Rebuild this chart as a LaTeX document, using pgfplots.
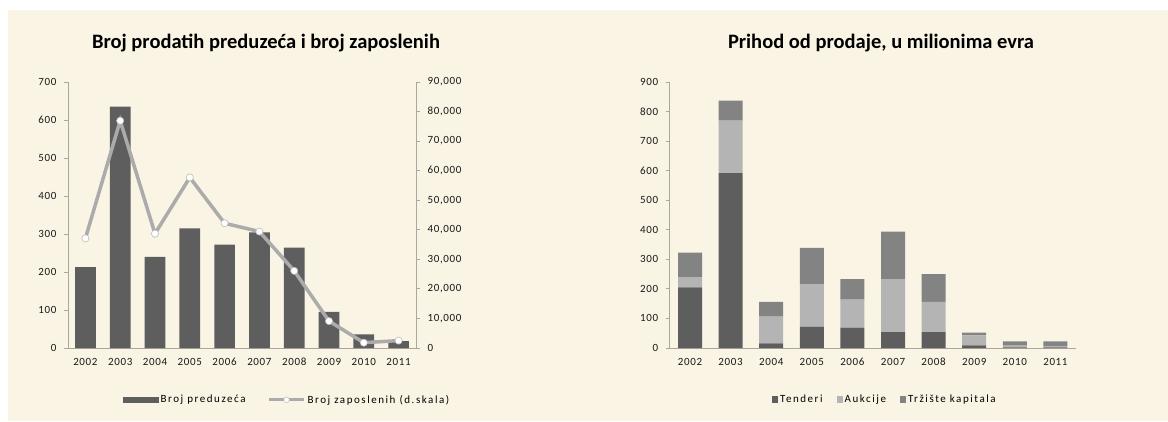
\documentclass[border=0pt]{standalone}
\usepackage{pgfplots}
\pgfplotsset{compat=1.18}
\usepackage{fontspec}
\setmainfont{Carlito}
\newfontfamily\tf[LetterSpace=6]{Carlito}
\newfontfamily\lf[LetterSpace=14]{Carlito}
\definecolor{bg}{HTML}{FAF4E4}
\definecolor{barD}{HTML}{5E5E5E}
\definecolor{barL}{HTML}{B4B4B4}
\definecolor{barM}{HTML}{838383}
\definecolor{lineG}{HTML}{ABABAB}
\definecolor{axG}{HTML}{A8A8A0}
\pgfplotsset{
  common/.style={
    scale only axis, anchor=south west,
    xmin=-0.5, xmax=9.5, ymin=0,
    axis line style={axG, line width=0.8pt},
    tick style={axG, line width=0.8pt},
    tick align=outside, major tick length=4pt,
    xtick style={draw=none},
    tick label style={font=\fontsize{11}{12}\selectfont\tf, text=black!90},
    xticklabel style={text height=1.6ex, text depth=0.2ex, yshift=-2pt},
    /pgf/number format/assume math mode=true,
    scaled y ticks=false,
  },
}
\begin{document}
\begin{tikzpicture}[x=1pt,y=1pt]
\fill[white] (0,0) rectangle (1168,421);
\fill[bg] (8,0) rectangle (1168,411);
\useasboundingbox (0,0) rectangle (1168,421);
\node[font=\bfseries\fontsize{20.5}{22}\selectfont] at (266,378) {Broj prodatih preduzeća i broj zaposlenih};
\node[font=\bfseries\fontsize{20.5}{22}\selectfont] at (881,378) {Prihod od prodaje, u milionima evra};

% left chart, bars
\begin{axis}[common, at={(68pt,73pt)}, width=348pt, height=266pt,
  ymax=700, ytick={0,100,...,700},
  yticklabel style={xshift=-4pt},
  xtick={0,...,9}, xticklabels={2002,2003,2004,2005,2006,2007,2008,2009,2010,2011},
  axis x line*=bottom, axis y line*=left, ybar, bar width=20.7pt]
\addplot[fill=barD, draw=none] coordinates {
(0,213) (1,635) (2,240) (3,315) (4,272) (5,304) (6,264) (7,95) (8,36) (9,18)};
\end{axis}
% left chart, line on right axis
\begin{axis}[common, at={(68pt,73pt)}, width=348pt, height=266pt,
  ymax=90000, ytick={0,10000,...,90000},
  yticklabel style={xshift=4pt},
  /pgf/number format/1000 sep={,},
  axis y line*=right, axis x line=none,
  legend style={at={(0.63,-0.195)}, anchor=center, draw=none, fill=none,
    font=\fontsize{11}{12}\selectfont\lf, legend columns=2,
    /tikz/every even column/.append style={column sep=20pt},
    /tikz/every odd column/.append style={column sep=0pt}},
  legend cell align=left]
\addlegendimage{legend image code/.code={\fill[barD] (0pt,-2.5pt) rectangle (35pt,2.5pt);}}
\addlegendentry{Broj preduzeća}
\addplot[lineG, line width=3.5pt, mark=*, mark size=3.6pt,
  mark options={fill=white, draw=lineG!80, line width=0.6pt},
  legend image code/.code={\draw[lineG,line width=3pt] (0pt,0pt) -- (35pt,0pt); \draw[fill=white,draw=lineG!80,line width=0.5pt] (17.5pt,0pt) circle (2.8pt);}]
 coordinates {
(0,37100) (1,76900) (2,38700) (3,57700) (4,42200) (5,39400) (6,26100) (7,9100) (8,1800) (9,2500)};
\addlegendentry{Broj zaposlenih (d.skala)}
\end{axis}

% right chart
\begin{axis}[common, at={(669.7pt,73pt)}, width=406pt, height=266pt,
  ymax=900, ytick={0,100,...,900},
  yticklabel style={xshift=-4pt},
  xtick={0,...,9}, xticklabels={2002,2003,2004,2005,2006,2007,2008,2009,2010,2011},
  axis x line*=bottom, axis y line*=left, ybar stacked, bar width=24pt,
  legend style={at={(0.53,-0.195)}, anchor=center, draw=none, fill=none,
    font=\fontsize{11}{12}\selectfont\lf, legend columns=3,
    /tikz/every even column/.append style={column sep=12pt}},
  legend cell align=left,
  legend image code/.code={\fill[#1,draw=none] (0pt,-3pt) rectangle (6pt,3.5pt);}]
\addplot[fill=barD, draw=none] coordinates {
(0,205) (1,592) (2,16) (3,72) (4,69) (5,54) (6,54) (7,9) (8,2) (9,2)};
\addlegendentry{Tenderi}
\addplot[fill=barL, draw=none] coordinates {
(0,35) (1,177) (2,90) (3,144) (4,95) (5,179) (6,102) (7,34) (8,6) (9,4)};
\addlegendentry{Aukcije}
\addplot[fill=barM, draw=none] coordinates {
(0,83) (1,68) (2,50) (3,123) (4,69) (5,161) (6,94) (7,9) (8,14) (9,16)};
\addlegendentry{Tržište kapitala}
\end{axis}
\end{tikzpicture}
\end{document}
